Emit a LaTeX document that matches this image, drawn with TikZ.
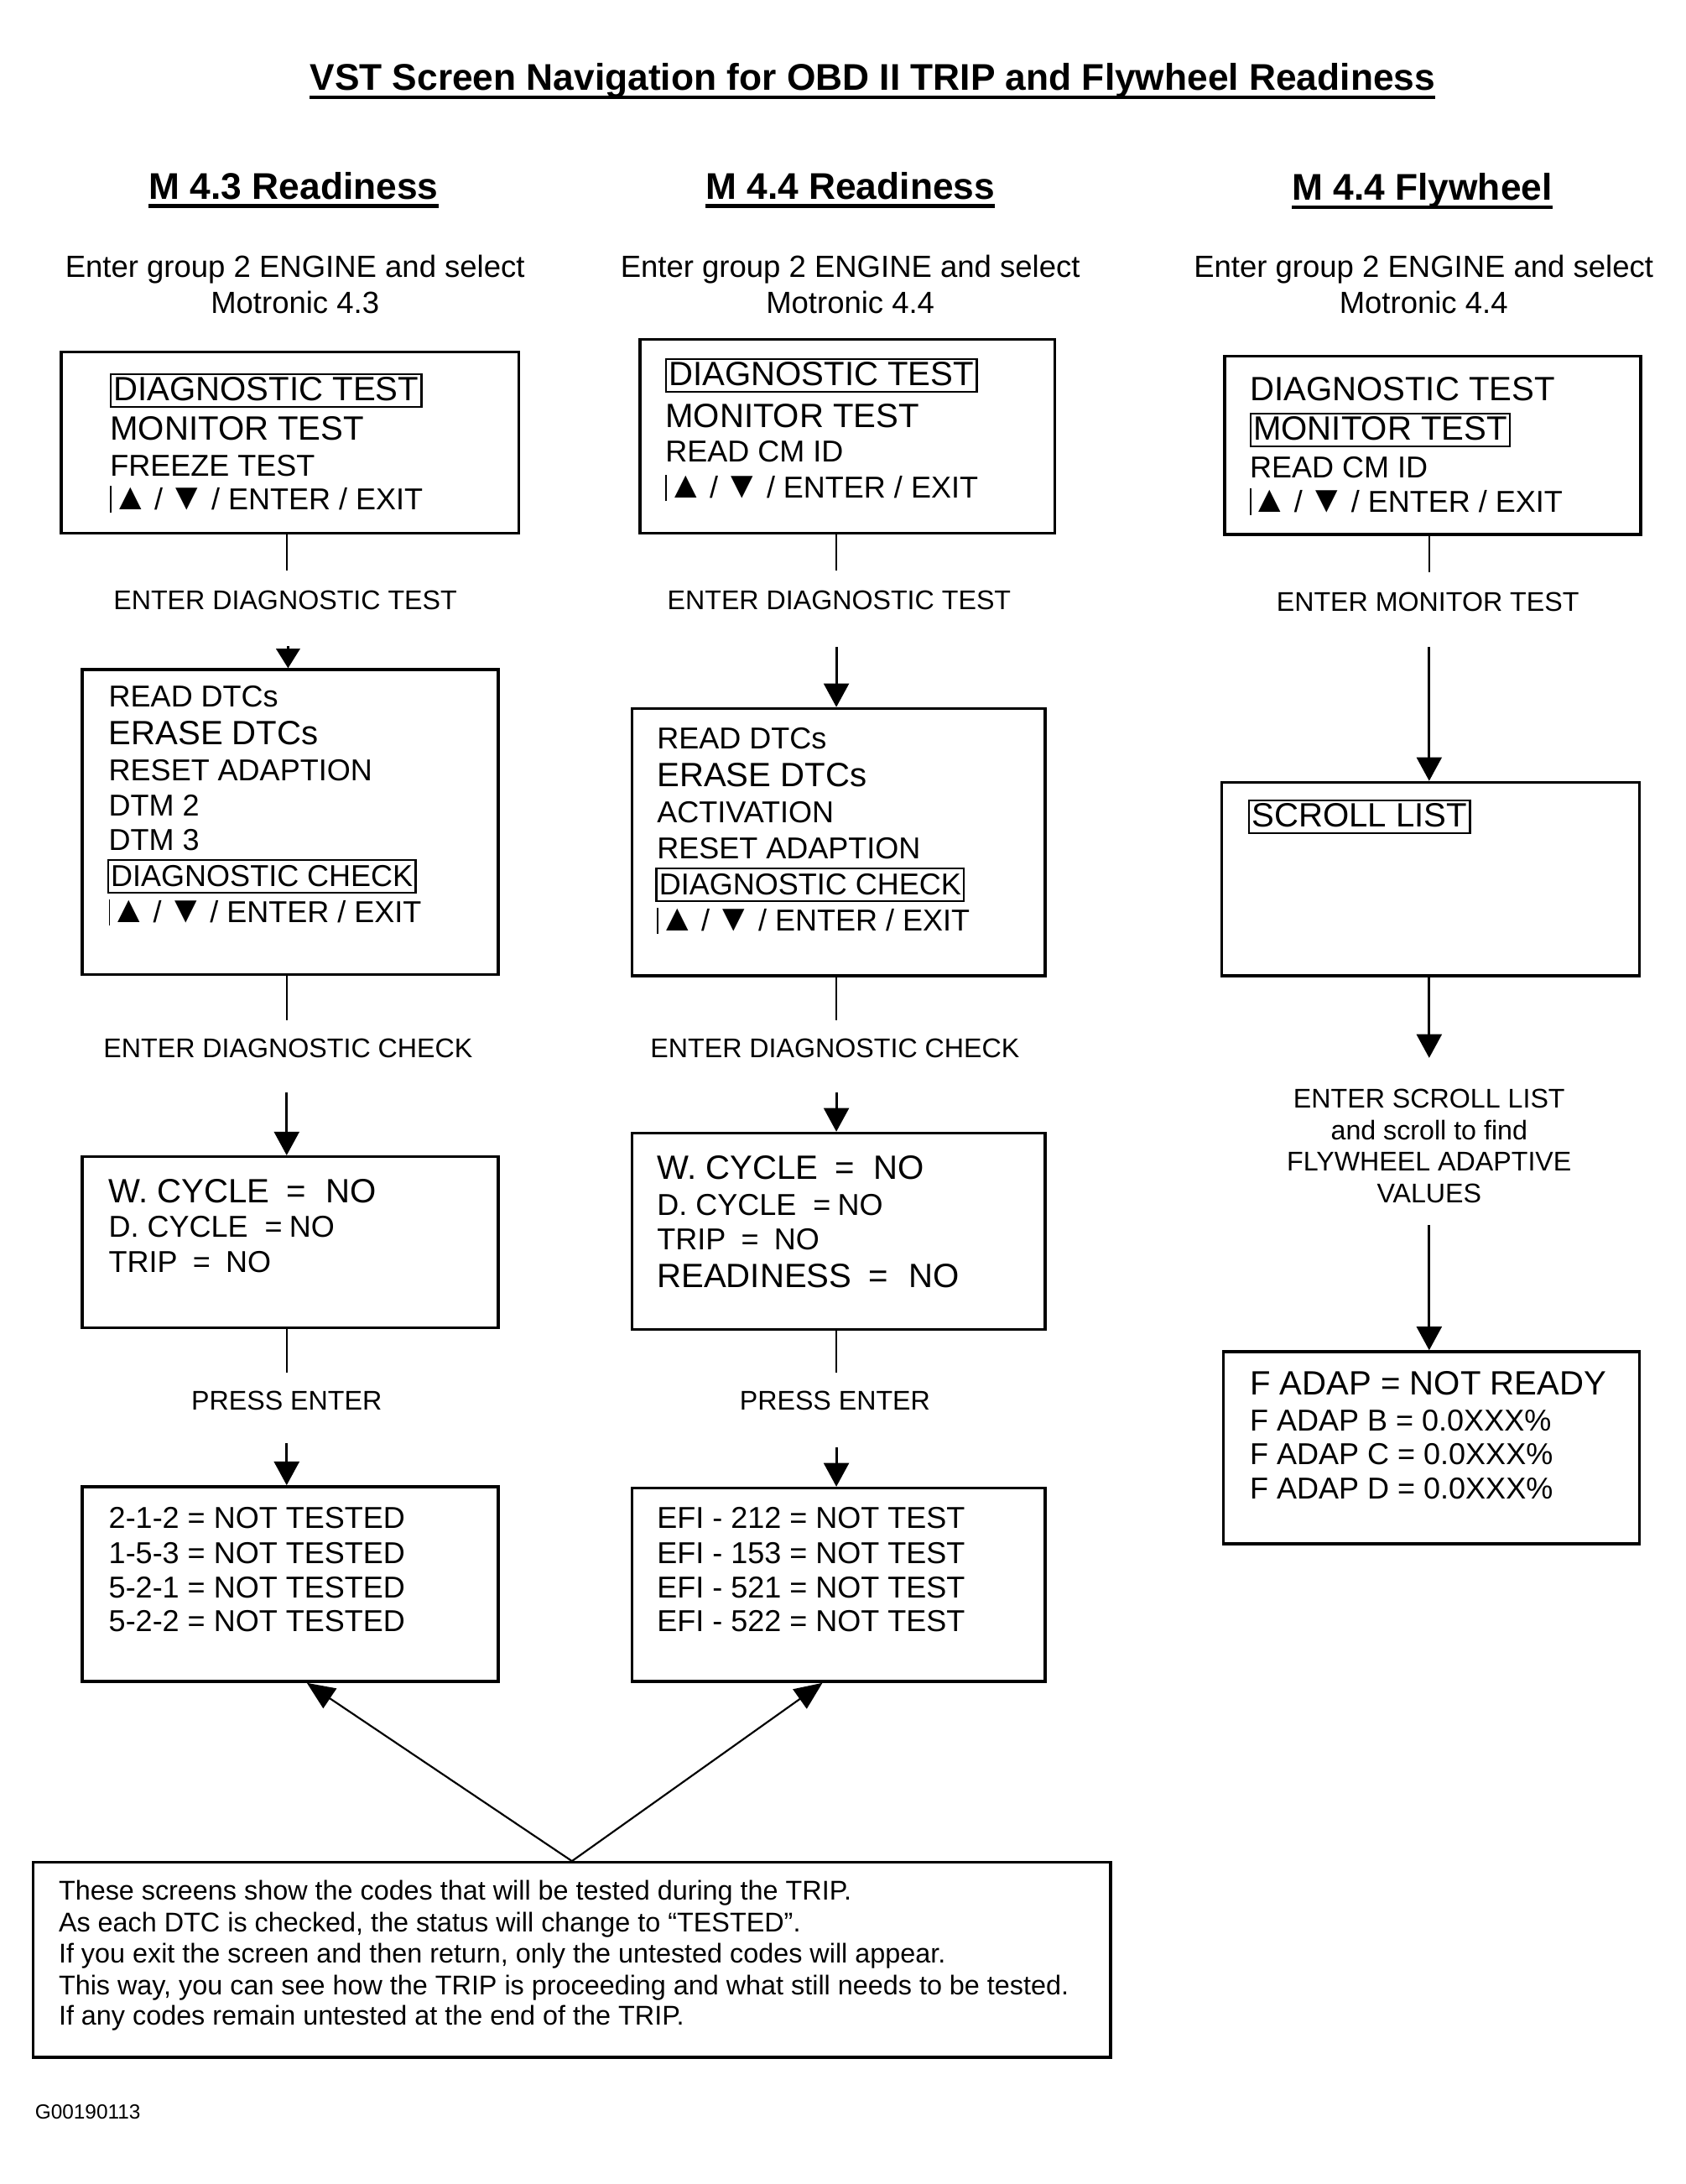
\documentclass[tikz,border=0pt]{standalone}
\usepackage{fontspec}
\setmainfont{Liberation Sans}
\usetikzlibrary{arrows.meta}
\newcommand\myfT{\fontsize{26.7}{30}\selectfont\bfseries}
\newcommand\myfSub{\fontsize{22}{26}\selectfont}
\newcommand\myfL{\fontsize{24.2}{28}\selectfont}
\newcommand\myfS{\fontsize{21.7}{26}\selectfont}
\newcommand\myfLab{\fontsize{19.4}{23}\selectfont}
\newcommand\myfN{\fontsize{19.5}{23}\selectfont}
\newcommand\myfF{\fontsize{14.7}{17}\selectfont}
\newcommand\myarrows{\rule[-2pt]{1pt}{19pt}\scalebox{1.25}{▲}\hspace{4pt}/\hspace{4pt}\scalebox{1.25}{▼}\hspace{4pt}/ ENTER / EXIT}
\begin{document}
\begin{tikzpicture}[x=1pt,y=-1pt,
  box/.style={draw, line width=2pt, inner sep=0pt, anchor=north west},
  txt/.style={inner sep=0pt, anchor=base west},
  ctr/.style={inner sep=0pt, anchor=base},
  frm/.style={draw, line width=1.4pt, inner xsep=2pt, inner ysep=0pt, text height=19pt, text depth=4.5pt, anchor=base west},
  conn/.style={line width=1.2pt},
  arr/.style={line width=1.8pt, -{Triangle[width=18pt,length=17pt]}},
  arrS/.style={line width=1.8pt, -{Triangle[width=17pt,length=14pt]}},
  arrD/.style={line width=1.3pt, -{Triangle[width=17pt,length=20pt]}},
  uline/.style={line width=2.6pt}]
\useasboundingbox (0,0) rectangle (1211,1569);

% title and headers
\node[ctr, font=\myfT] (title) at (627,65) {VST Screen Navigation for OBD II TRIP and Flywheel Readiness};
\draw[uline] ([yshift=-5pt]title.base west) -- ([yshift=-5pt]title.base east);
\node[ctr, font=\myfT] (h1) at (211,143) {M 4.3 Readiness};
\draw[uline] ([yshift=-5pt]h1.base west) -- ([yshift=-5pt]h1.base east);
\node[ctr, font=\myfT] (h2) at (611,143) {M 4.4 Readiness};
\draw[uline] ([yshift=-5pt]h2.base west) -- ([yshift=-5pt]h2.base east);
\node[ctr, font=\myfT] (h3) at (1022,144) {M 4.4 Flywheel};
\draw[uline] ([yshift=-5pt]h3.base west) -- ([yshift=-5pt]h3.base east);

\node[ctr, font=\myfSub] (s1a) at (212,199) {Enter group 2 ENGINE and select};
\node[ctr, font=\myfSub] (s1b) at (212,225) {Motronic 4.3};
\node[ctr, font=\myfSub] (s2a) at (611,199) {Enter group 2 ENGINE and select};
\node[ctr, font=\myfSub] (s2b) at (611,225) {Motronic 4.4};
\node[ctr, font=\myfSub] (s3a) at (1023,199) {Enter group 2 ENGINE and select};
\node[ctr, font=\myfSub] (s3b) at (1023,225) {Motronic 4.4};

% ---------------- column 1 ----------------
\node[box, minimum width=329pt, minimum height=130pt] (c1b1) at (43,252) {};
\node[frm, font=\myfL] (c1b1t1) at (79,288) {DIAGNOSTIC TEST};
\node[txt, font=\myfL] (c1b1t2) at (79,316) {MONITOR TEST};
\node[txt, font=\myfS] (c1b1t3) at (79,342) {FREEZE TEST};
\node[txt, font=\myfS] (c1b1t4) at (79,366) {\myarrows};

\node[box, minimum width=299pt, minimum height=219pt] (c1b2) at (58,480) {};
\node[txt, font=\myfS] (c1b2t1) at (78,508) {READ DTCs};
\node[txt, font=\myfL] (c1b2t2) at (78,535) {ERASE DTCs};
\node[txt, font=\myfS] (c1b2t3) at (78,561) {RESET ADAPTION};
\node[txt, font=\myfS] (c1b2t4) at (78,586) {DTM 2};
\node[txt, font=\myfS] (c1b2t5) at (78,611) {DTM 3};
\node[frm, font=\myfS] (c1b2t6) at (77,637) {DIAGNOSTIC CHECK};
\node[txt, font=\myfS] (c1b2t7) at (78,663) {\myarrows};

\node[box, minimum width=299pt, minimum height=123pt] (c1b3) at (58,830) {};
\node[txt, font=\myfL] (c1b3t1) at (78,864) {W. CYCLE\hspace{12pt}=\hspace{14pt}NO};
\node[txt, font=\myfS] (c1b3t2) at (78,889) {D. CYCLE\hspace{12pt}=\hspace{5pt}NO};
\node[txt, font=\myfS] (c1b3t3) at (78,914) {TRIP\hspace{11pt}=\hspace{11pt}NO};

\node[box, minimum width=299pt, minimum height=140pt] (c1b4) at (58,1067) {};
\node[txt, font=\myfS] (c1b4t1) at (78,1098) {2-1-2 = NOT TESTED};
\node[txt, font=\myfS] (c1b4t2) at (78,1123) {1-5-3 = NOT TESTED};
\node[txt, font=\myfS] (c1b4t3) at (78,1148) {5-2-1 = NOT TESTED};
\node[txt, font=\myfS] (c1b4t4) at (78,1172) {5-2-2 = NOT TESTED};

\node[ctr, font=\myfLab] (c1l1) at (205,438) {ENTER DIAGNOSTIC TEST};
\node[ctr, font=\myfLab] (c1l2) at (207,760) {ENTER DIAGNOSTIC CHECK};
\node[ctr, font=\myfLab] (c1l3) at (206,1013) {PRESS ENTER};

\coordinate (c1p1) at (206,410);
\coordinate (c1q1) at (207,464);
\coordinate (c1p2) at (206,733);
\coordinate (c1q2) at (206,785);
\coordinate (c1p3) at (206,986);
\coordinate (c1q3) at (206,1037);
\draw[conn] (c1b1.south -| c1p1) -- (c1p1);
\draw[arrS] (c1q1) -- (c1q1 |- c1b2.north);
\draw[conn] (c1b2.south -| c1p2) -- (c1p2);
\draw[arr] (c1q2) -- (c1q2 |- c1b3.north);
\draw[conn] (c1b3.south -| c1p3) -- (c1p3);
\draw[arr] (c1q3) -- (c1q3 |- c1b4.north);

% ---------------- column 2 ----------------
\node[box, minimum width=298pt, minimum height=139pt] (c2b1) at (459,243) {};
\node[frm, font=\myfL] (c2b1t1) at (478,277) {DIAGNOSTIC TEST};
\node[txt, font=\myfL] (c2b1t2) at (478,307) {MONITOR TEST};
\node[txt, font=\myfS] (c2b1t3) at (478,332) {READ CM ID};
\node[txt, font=\myfS] (c2b1t4) at (478,358) {\myarrows};

\node[box, minimum width=297pt, minimum height=192pt] (c2b2) at (453,508) {};
\node[txt, font=\myfS] (c2b2t1) at (472,538) {READ DTCs};
\node[txt, font=\myfL] (c2b2t2) at (472,565) {ERASE DTCs};
\node[txt, font=\myfS] (c2b2t3) at (472,591) {ACTIVATION};
\node[txt, font=\myfS] (c2b2t4) at (472,617) {RESET ADAPTION};
\node[frm, font=\myfS] (c2b2t5) at (471,643) {DIAGNOSTIC CHECK};
\node[txt, font=\myfS] (c2b2t6) at (472,669) {\myarrows};

\node[box, minimum width=297pt, minimum height=141pt] (c2b3) at (453,813) {};
\node[txt, font=\myfL] (c2b3t1) at (472,847) {W. CYCLE\hspace{12pt}=\hspace{14pt}NO};
\node[txt, font=\myfS] (c2b3t2) at (472,873) {D. CYCLE\hspace{12pt}=\hspace{5pt}NO};
\node[txt, font=\myfS] (c2b3t3) at (472,898) {TRIP\hspace{11pt}=\hspace{11pt}NO};
\node[txt, font=\myfL] (c2b3t4) at (472,925) {READINESS\hspace{12pt}=\hspace{15pt}NO};

\node[box, minimum width=297pt, minimum height=139pt] (c2b4) at (453,1068) {};
\node[txt, font=\myfS] (c2b4t1) at (472,1098) {EFI - 212 = NOT TEST};
\node[txt, font=\myfS] (c2b4t2) at (472,1123) {EFI - 153 = NOT TEST};
\node[txt, font=\myfS] (c2b4t3) at (472,1148) {EFI - 521 = NOT TEST};
\node[txt, font=\myfS] (c2b4t4) at (472,1172) {EFI - 522 = NOT TEST};

\node[ctr, font=\myfLab] (c2l1) at (603,438) {ENTER DIAGNOSTIC TEST};
\node[ctr, font=\myfLab] (c2l2) at (600,760) {ENTER DIAGNOSTIC CHECK};
\node[ctr, font=\myfLab] (c2l3) at (600,1013) {PRESS ENTER};

\coordinate (c2p1) at (601,410);
\coordinate (c2q1) at (601,465);
\coordinate (c2p2) at (601,733);
\coordinate (c2q2) at (601,785);
\coordinate (c2p3) at (601,986);
\coordinate (c2q3) at (601,1040);
\draw[conn] (c2b1.south -| c2p1) -- (c2p1);
\draw[arr] (c2q1) -- (c2q1 |- c2b2.north);
\draw[conn] (c2b2.south -| c2p2) -- (c2p2);
\draw[arr] (c2q2) -- (c2q2 |- c2b3.north);
\draw[conn] (c2b3.south -| c2p3) -- (c2p3);
\draw[arr] (c2q3) -- (c2q3 |- c2b4.north);

% ---------------- column 3 ----------------
\node[box, minimum width=299pt, minimum height=128pt] (c3b1) at (879,255) {};
\node[txt, font=\myfL] (c3b1t1) at (898,288) {DIAGNOSTIC TEST};
\node[frm, font=\myfL] (c3b1t2) at (898,316) {MONITOR TEST};
\node[txt, font=\myfS] (c3b1t3) at (898,343) {READ CM ID};
\node[txt, font=\myfS] (c3b1t4) at (898,368) {\myarrows};

\node[box, minimum width=300pt, minimum height=139pt] (c3b2) at (877,561) {};
\node[frm, font=\myfL] (c3b2t1) at (897,594) {SCROLL LIST};

\node[box, minimum width=299pt, minimum height=138pt] (c3b3) at (878,970) {};
\node[txt, font=\myfL] (c3b3t1) at (898,1002) {F ADAP = NOT READY};
\node[txt, font=\myfS] (c3b3t2) at (898,1028) {F ADAP B = 0.0XXX\%};
\node[txt, font=\myfS] (c3b3t3) at (898,1052) {F ADAP C = 0.0XXX\%};
\node[txt, font=\myfS] (c3b3t4) at (898,1077) {F ADAP D = 0.0XXX\%};

\node[ctr, font=\myfLab] (c3l1) at (1026,439) {ENTER MONITOR TEST};
\node[ctr, font=\myfLab] (c3l2a) at (1027,796) {ENTER SCROLL LIST};
\node[ctr, font=\myfLab] (c3l2b) at (1027,819) {and scroll to find};
\node[ctr, font=\myfLab] (c3l2c) at (1027,841) {FLYWHEEL ADAPTIVE};
\node[ctr, font=\myfLab] (c3l2d) at (1027,864) {VALUES};

\coordinate (c3p1) at (1027,411);
\coordinate (c3q1) at (1027,465);
\coordinate (c3p2) at (1027,760);
\coordinate (c3q2) at (1027,880);
\draw[conn] (c3b1.south -| c3p1) -- (c3p1);
\draw[arr] (c3q1) -- (c3q1 |- c3b2.north);
\draw[arr] (c3b2.south -| c3p2) -- (c3p2);
\draw[arr] (c3q2) -- (c3q2 |- c3b3.north);

% ---------------- note ----------------
\node[box, minimum width=774pt, minimum height=140pt] (note) at (23,1337) {};
\node[txt, font=\myfN] (n1) at (42,1365) {These screens show the codes that will be tested during the TRIP.};
\node[txt, font=\myfN] (n2) at (42,1388) {As each DTC is checked, the status will change to “TESTED”.};
\node[txt, font=\myfN] (n3) at (42,1410) {If you exit the screen and then return, only the untested codes will appear.};
\node[txt, font=\myfN] (n4) at (42,1433) {This way, you can see how the TRIP is proceeding and what still needs to be tested.};
\node[txt, font=\myfN] (n5) at (42,1455) {If any codes remain untested at the end of the TRIP.};

\draw[arrD] (note.north) -- ([xshift=12pt]c1b4.south);
\draw[arrD] (note.north) -- ([xshift=-11.5pt]c2b4.south);

\node[txt, font=\myfF] (foot) at (25,1522) {G00190113};
\end{tikzpicture}
\end{document}
